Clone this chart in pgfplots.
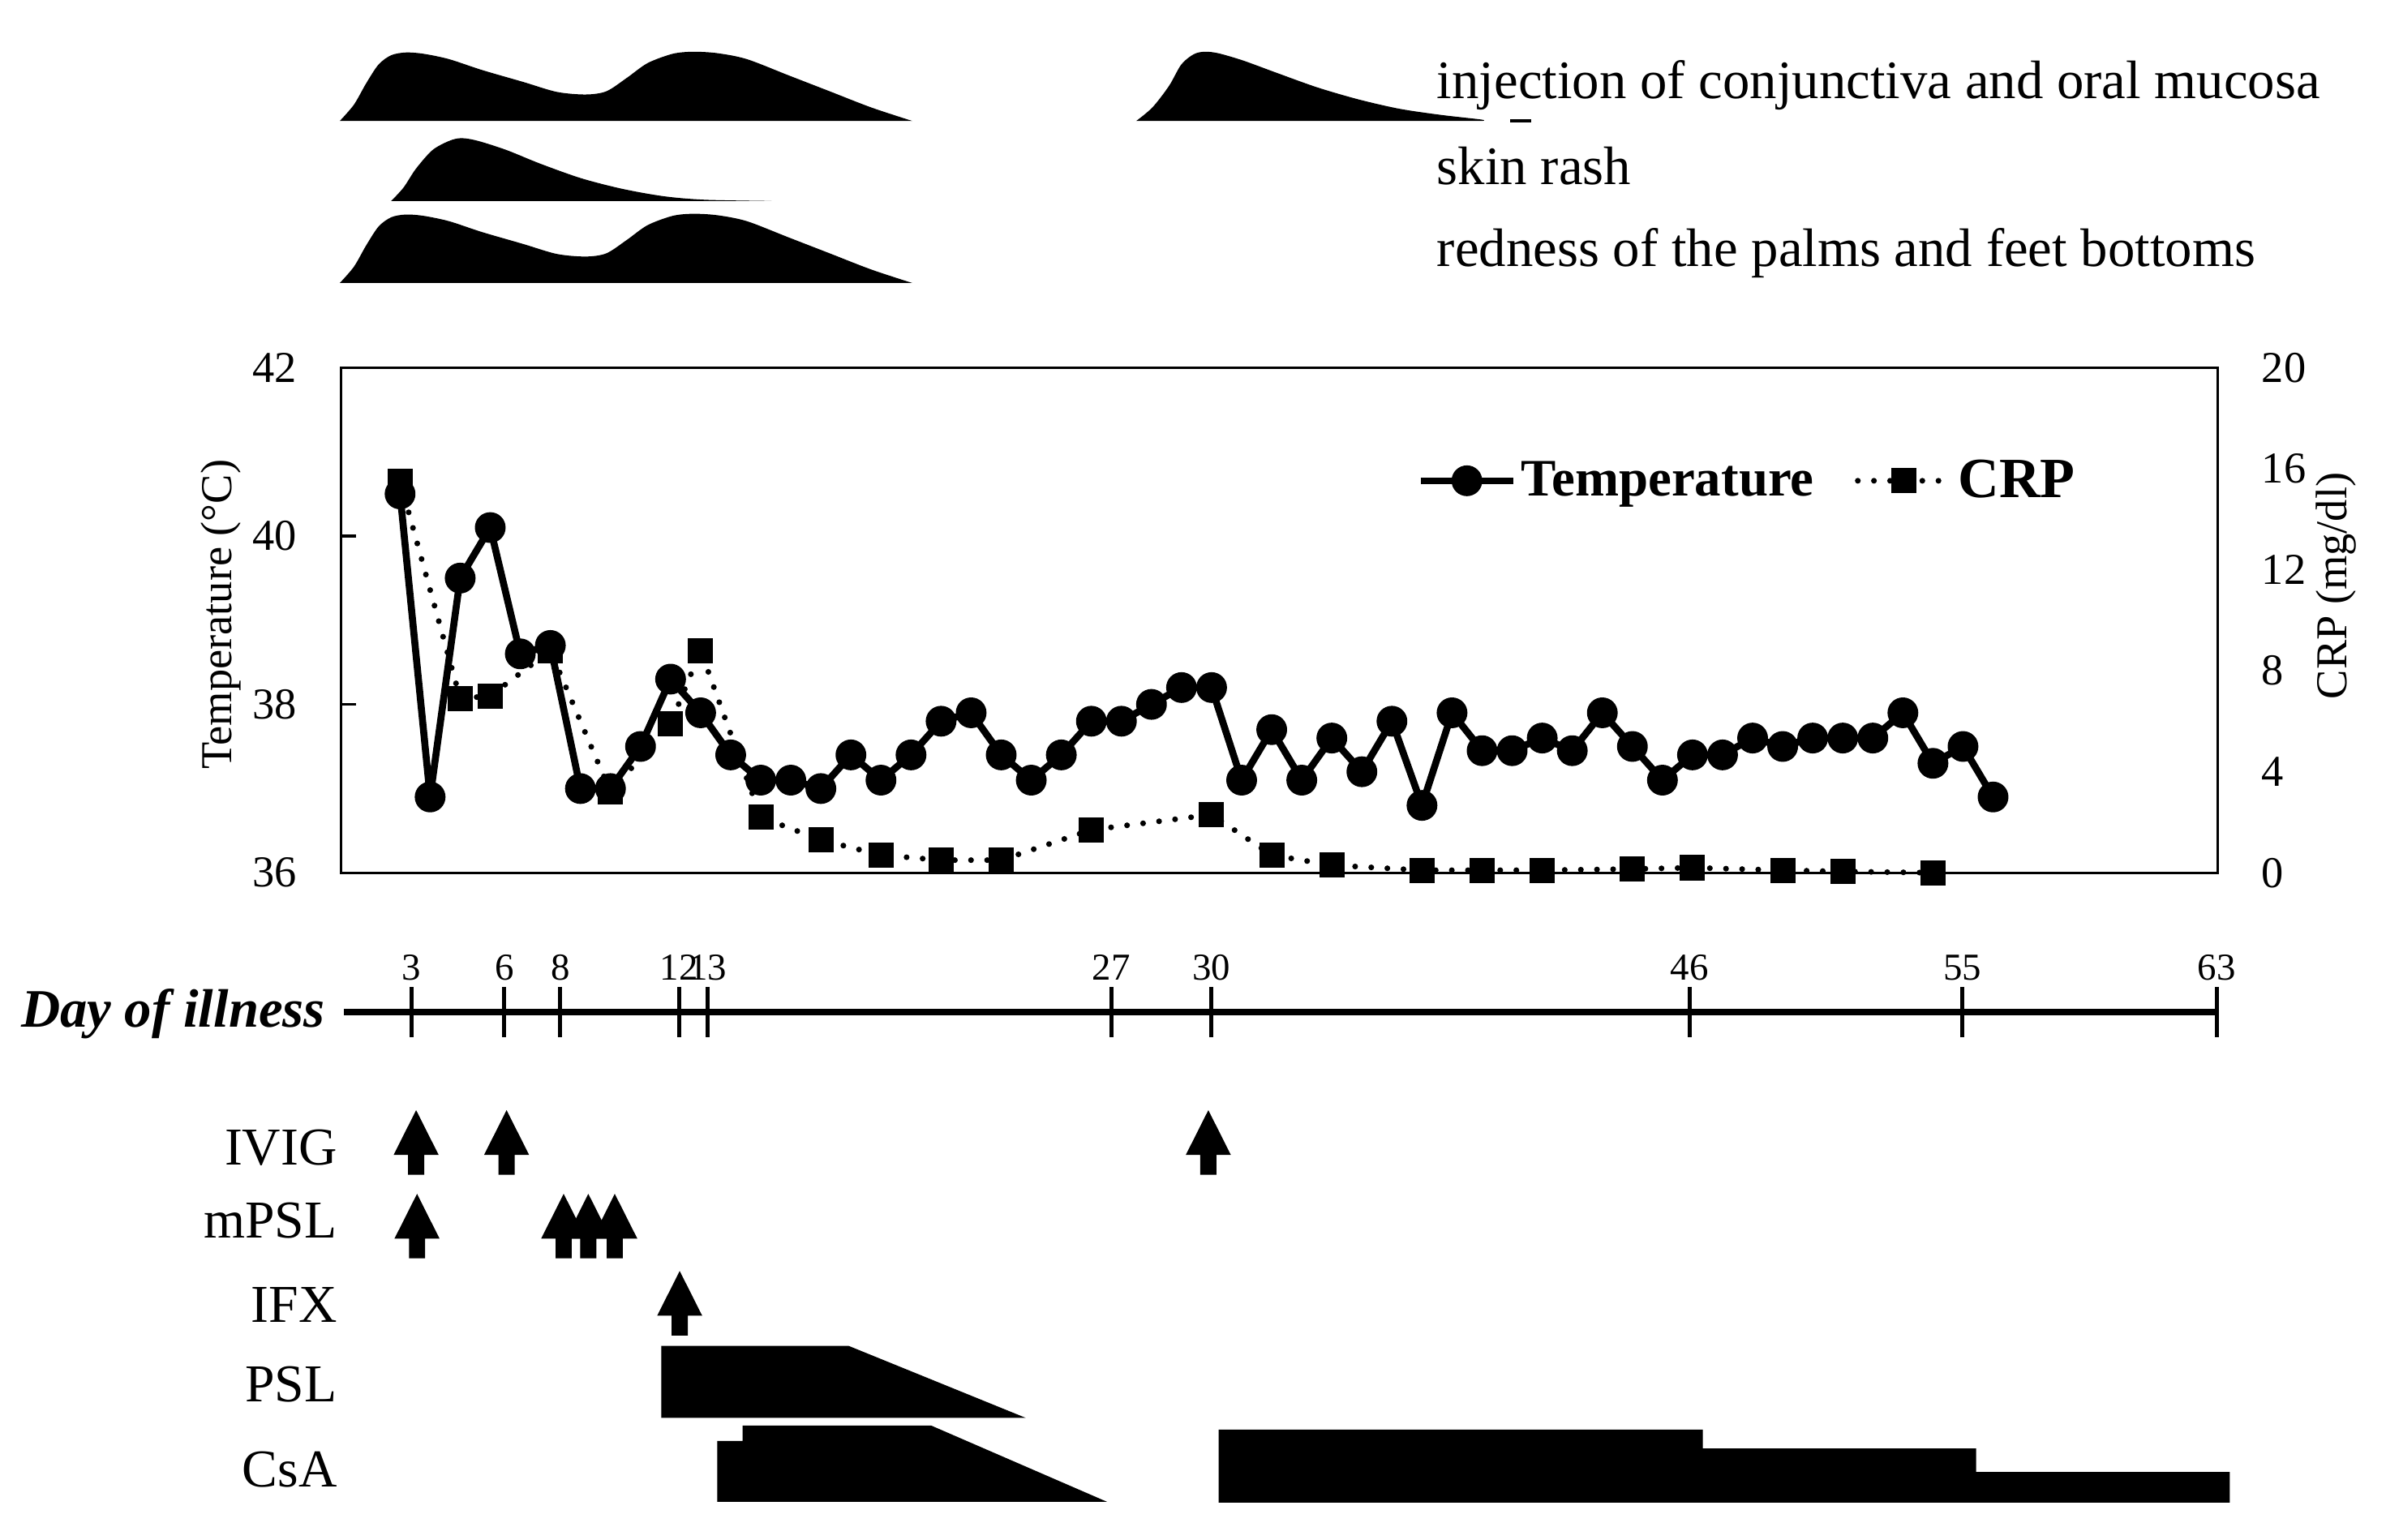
\documentclass[border=0pt]{standalone}
\usepackage{pgfplots}
\usepackage{pgfplotstable}
\pgfplotsset{compat=1.18}
\usepackage{fontspec}
\setmainfont{Liberation Serif}

\pgfdeclareplotmark{blockarrow}{%
  \pgfpathmoveto{\pgfqpoint{-2.65pt}{0pt}}%
  \pgfpathlineto{\pgfqpoint{2.65pt}{0pt}}%
  \pgfpathlineto{\pgfqpoint{2.65pt}{6.5pt}}%
  \pgfpathlineto{\pgfqpoint{7.4pt}{6.5pt}}%
  \pgfpathlineto{\pgfqpoint{0pt}{21.2pt}}%
  \pgfpathlineto{\pgfqpoint{-7.4pt}{6.5pt}}%
  \pgfpathlineto{\pgfqpoint{-2.65pt}{6.5pt}}%
  \pgfpathclose
  \pgfusepathqfill}

\pgfplotsset{/pgf/number format/assume math mode=true}

\pgfplotstableread{
x T
0 40.5
1 36.9
2 39.5
3 40.1
4 38.6
5 38.7
6 37.0
7 37.0
8 37.5
9 38.3
10 37.9
11 37.4
12 37.1
13 37.1
14 37.0
15 37.4
16 37.1
17 37.4
18 37.8
19 37.9
20 37.4
21 37.1
22 37.4
23 37.8
24 37.8
25 38.0
26 38.2
27 38.2
28 37.1
29 37.7
30 37.1
31 37.6
32 37.2
33 37.8
34 36.8
35 37.9
36 37.45
37 37.45
38 37.6
39 37.45
40 37.9
41 37.5
42 37.1
43 37.4
44 37.4
45 37.6
46 37.5
47 37.6
48 37.6
49 37.6
50 37.9
51 37.3
52 37.5
53 36.9
}\temptable

\pgfplotstableread{
x C
0 15.5
2 6.9
3 7.0
5 8.8
7 3.2
9 5.9
10 8.8
12 2.2
14 1.3
16 0.7
18 0.5
20 0.5
23 1.7
27 2.3
29 0.7
31 0.3
34 0.1
36 0.1
38 0.1
41 0.15
43 0.2
46 0.1
48 0.05
51 0.0
}\crptable

\tikzset{
  tempstyle/.style={black, line width=2.3pt, line join=round, mark=*, mark size=3.9pt, mark options={solid, fill=black}},
  crpstyle/.style={black, line width=1.9pt, line cap=round, dash pattern=on 0pt off 5.3pt, mark=square*, mark size=4pt, mark options={solid, fill=black, line width=0pt}},
}

\begin{document}
\begin{tikzpicture}
\useasboundingbox (0,0) rectangle (784pt,506pt);

% ---------- overlay axis: symptoms, treatments, labels ----------
\begin{axis}[
  at={(0pt,0pt)}, anchor=south west,
  scale only axis, width=784pt, height=506pt,
  xmin=-13.316, xmax=66.076, ymin=0, ymax=1012, y dir=reverse,
  hide axis, clip=false,
]
% injection of conjunctiva and oral mucosa
\addplot[fill=black, draw=none, smooth, tension=0.5] coordinates {
(-2.01,79.5) (-1.54,68.8) (-1.13,54.7) (-0.72,42.4) (-0.30,36.3) (0.19,34.5) (0.79,35.4) (1.63,38.9) (2.72,46.0) (4.10,53.9) (5.21,60.4) (6.17,62.1) (6.86,60.0) (7.54,51.2) (8.23,41.5) (9.06,35.4) (9.75,34.0) (10.57,35.0) (11.54,38.9) (12.92,49.5) (14.29,60.0) (15.67,70.6) (17.04,79.5)};
\addplot[fill=black, draw=none, smooth, tension=0.5] coordinates {
(24.49,79.5) (25.03,70.6) (25.58,56.5) (25.99,42.4) (26.40,35.7) (26.76,34.0) (27.22,35.0) (28.05,39.8) (29.14,47.7) (30.51,57.4) (31.88,65.3) (33.25,71.5) (34.62,75.5) (35.98,78.6) (36.0,79.5)};
\addplot[black, line width=1pt] coordinates {(36.94,79.3) (37.62,79.3)};
% skin rash
\addplot[fill=black, draw=none, smooth, tension=0.5] coordinates {
(-0.30,132.1) (0.11,123.3) (0.52,111.0) (1.07,98.7) (1.63,92.6) (2.04,90.8) (2.59,92.6) (3.55,98.7) (4.65,107.5) (6.03,117.2) (7.41,124.2) (8.78,129.0) (10.16,131.3) (12.36,132.1)};
% redness of the palms and feet bottoms
\addplot[fill=black, draw=none, smooth, tension=0.5] coordinates {
(-2.01,186.0) (-1.54,175.3) (-1.13,161.2) (-0.72,148.9) (-0.30,142.8) (0.19,141.0) (0.79,141.9) (1.63,145.4) (2.72,152.5) (4.10,160.4) (5.21,166.9) (6.17,168.6) (6.86,166.5) (7.54,157.7) (8.23,148.0) (9.06,141.9) (9.75,140.5) (10.57,141.5) (11.54,145.4) (12.92,156.0) (14.29,166.5) (15.67,177.1) (17.04,186.0)};

\node[anchor=base west, inner sep=0pt, font=\fontsize{17.8}{20}\selectfont] at (axis cs:34.48,65) {injection of conjunctiva and oral mucosa};
\node[anchor=base west, inner sep=0pt, font=\fontsize{17.8}{20}\selectfont] at (axis cs:34.48,121) {skin rash};
\node[anchor=base west, inner sep=0pt, font=\fontsize{17.8}{20}\selectfont] at (axis cs:34.48,175) {redness of the palms and feet bottoms};

% Day of illness label
\node[anchor=base east, inner sep=0pt, font=\fontsize{17.8}{20}\selectfont\bfseries\itshape] at (axis cs:-2.48,675) {Day of illness};

% treatments
\addplot[only marks, mark=blockarrow, mark options={fill=black, draw=none}] coordinates {(0.53,772) (3.54,772) (26.89,772)};
\addplot[only marks, mark=blockarrow, mark options={fill=black, draw=none}] coordinates {(0.56,827) (5.44,827) (6.26,827) (7.14,827)};
\addplot[only marks, mark=blockarrow, mark options={fill=black, draw=none}] coordinates {(9.30,877.7)};
\addplot[fill=black, draw=none] coordinates {(8.69,931.8) (8.69,884.5) (14.92,884.5) (20.81,931.8)};
\addplot[fill=black, draw=none] coordinates {(10.55,987) (10.55,947) (11.39,947) (11.39,936.9) (17.67,936.9) (23.52,987)};
\addplot[fill=black, draw=none] coordinates {(27.23,987.5) (27.23,939.6) (43.34,939.6) (43.34,952) (52.44,952) (52.44,967.4) (60.88,967.4) (60.88,987.5)};

\node[anchor=east, inner sep=0pt, font=\fontsize{17.5}{20}\selectfont] at (axis cs:-2.08,754.5) {IVIG};
\node[anchor=east, inner sep=0pt, font=\fontsize{17.5}{20}\selectfont] at (axis cs:-2.08,802) {mPSL};
\node[anchor=east, inner sep=0pt, font=\fontsize{17.5}{20}\selectfont] at (axis cs:-2.08,857.7) {IFX};
\node[anchor=east, inner sep=0pt, font=\fontsize{17.5}{20}\selectfont] at (axis cs:-2.08,910) {PSL};
\node[anchor=east, inner sep=0pt, font=\fontsize{17.5}{20}\selectfont] at (axis cs:-2.08,966) {CsA};
\end{axis}

% ---------- day of illness axis ----------
\begin{axis}[
  at={(113pt,173.5pt)}, anchor=north west,
  scale only axis, width=615.5pt, height=10pt,
  xmin=-1.87, xmax=60.46, ymin=0, ymax=1,
  axis x line*=top, axis y line=none,
  axis line style={line width=2.2pt, black},
  xtick={0.375,3.47,5.33,9.28,10.24,23.66,27.0,42.9,51.98,60.45},
  xticklabels={3,6,8,12,13,27,30,46,55,63},
  tick align=center, major tick length=16.5pt,
  tick style={line width=1.3pt, black},
  xticklabel style={font=\fontsize{12.5}{14}\selectfont, inner sep=0pt, anchor=south, yshift=2pt},
]
\end{axis}

% ---------- main axis: temperature ----------
\begin{axis}[
  at={(112pt,219.2pt)}, anchor=south west,
  scale only axis, width=616.75pt, height=166pt,
  xmin=-1.97, xmax=60.48, ymin=36, ymax=42,
  xtick=\empty, ytick={36,38,40,42}, ytick pos=left,
  tick align=inside, major tick length=5pt,
  axis line style={line width=0.9pt, black},
  tick style={line width=0.9pt, black},
  yticklabel style={font=\fontsize{14.5}{16}\selectfont, inner sep=0pt, xshift=-14.25pt},
  ylabel={Temperature (°C)},
  ylabel style={at={(axis description cs:-0.064,0.511)}, anchor=center, font=\fontsize{14.5}{16}\selectfont},
  clip=false,
]
\addplot[tempstyle] table[x=x, y=T] {\temptable};
\end{axis}

% ---------- main axis: CRP ----------
\begin{axis}[
  at={(112pt,219.2pt)}, anchor=south west,
  scale only axis, width=616.75pt, height=166pt,
  xmin=-1.97, xmax=60.48, ymin=0, ymax=20,
  axis x line=none, axis y line*=right,
  axis line style={line width=0.9pt, black},
  ytick={0,4,8,12,16,20}, major tick length=0pt,
  yticklabel style={font=\fontsize{14.5}{16}\selectfont, inner sep=0pt, xshift=14.25pt},
  ylabel={CRP (mg/dl)},
  ylabel style={at={(axis description cs:1.063,0.568)}, anchor=center, font=\fontsize{14.5}{16}\selectfont},
  clip=false,
  legend columns=2,
  legend image code/.code={\draw[mark repeat=2, mark phase=2, #1] plot coordinates {(0pt,0pt) (15.25pt,0pt) (30.5pt,0pt)};},
  legend style={at={(0.573,0.776)}, anchor=west, draw=none, fill=none, inner sep=0pt,
    nodes={inner sep=1.5pt}, /tikz/every even column/.append style={column sep=12pt}},
]
\addlegendimage{tempstyle}
\addlegendentry{\fontsize{17.3}{19}\selectfont\bfseries Temperature}
\addplot[crpstyle] table[x=x, y=C] {\crptable};
\addlegendentry{\fontsize{18.7}{20}\selectfont\bfseries CRP}
\end{axis}
\end{tikzpicture}
\end{document}
